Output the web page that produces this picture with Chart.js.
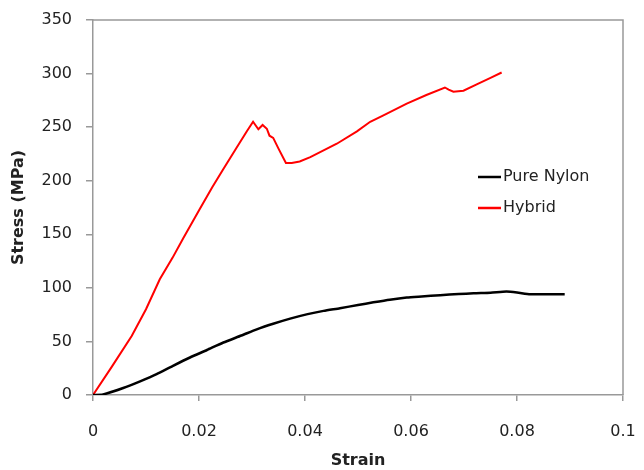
<!DOCTYPE html>
<html>
<head>
<meta charset="utf-8">
<script src="https://cdn.jsdelivr.net/npm/chart.js@4/dist/chart.umd.min.js"></script>
<style>
    body { margin: 0; background: #fff; }
    canvas { display: block; }
</style>
</head>
<body>
<canvas id="myChart" width="644" height="470"></canvas>
<script>
// Data
const nylonStrain = [0, 0.0019, 0.0057, 0.009, 0.012, 0.015, 0.0183, 0.0215, 0.0246, 0.028, 0.0309, 0.034, 0.0372, 0.0405, 0.0435, 0.0466, 0.05, 0.0529, 0.056, 0.0592, 0.062, 0.0655, 0.069, 0.0718, 0.075, 0.078, 0.08, 0.0825, 0.086, 0.089];
const nylonStress = [0, 0.5, 6.5, 13, 19.5, 27, 35, 42, 49, 55.5, 61.3, 66.5, 71.3, 75.5, 78.5, 81, 84, 86.5, 89, 91, 92, 93.2, 94.2, 95, 95.5, 96.6, 95.7, 94, 94, 94];

const hybridStrain = [0, 0.0035, 0.0073, 0.01, 0.0126, 0.015, 0.017, 0.0202, 0.0225, 0.0246, 0.027, 0.029, 0.0302, 0.0312, 0.032, 0.0328, 0.0333, 0.034, 0.035, 0.0364, 0.0375, 0.039, 0.041, 0.046, 0.0498, 0.0523, 0.0548, 0.0592, 0.0629, 0.0664, 0.0671, 0.068, 0.0699, 0.0724, 0.075, 0.0771];
const hybridStress = [0, 26, 55, 80, 108, 128, 146, 174, 194, 211, 230, 246, 255, 248, 252, 248.5, 242, 240, 230, 216.5, 216.5, 218, 222, 234.5, 246, 255, 261, 272, 280, 287, 285, 283, 284, 290, 296, 301];

const xTickLabels = ['0', '0.02', '0.04', '0.06', '0.08', '0.1'];
const seriesNames = ['Pure Nylon', 'Hybrid'];
const seriesColors = ['#000000', '#ff0000'];

const toPoints = (xs, ys) => xs.map((x, i) => ({ x, y: ys[i] }));

// keep the plot box where the reference has it
const fixBox = size => s => {
    if (s.isHorizontal()) s.height = size; else s.width = size;
    s.paddingTop = s.paddingBottom = s.paddingLeft = s.paddingRight = 0;
};

// Top + right border of the plot box
const frame = {
    id: 'frame',
    afterDraw(chart) {
        const { ctx, chartArea: a } = chart;
        ctx.save();
        ctx.strokeStyle = '#999';
        ctx.lineWidth = 1.5;
        ctx.beginPath();
        ctx.moveTo(a.left, a.top);
        ctx.lineTo(a.right, a.top);
        ctx.lineTo(a.right, a.bottom);
        ctx.stroke();
        ctx.restore();
    }
};

// Legend inside the plot, no box
const insideLegend = {
    id: 'insideLegend',
    afterDraw(chart) {
        const ctx = chart.ctx;
        ctx.save();
        ctx.font = '16px "DejaVu Sans"';
        ctx.textBaseline = 'middle';
        ctx.fillStyle = '#222';
        const rows = [177, 208];
        seriesNames.forEach((name, i) => {
            ctx.strokeStyle = seriesColors[i];
            ctx.lineWidth = 2.5;
            ctx.beginPath();
            ctx.moveTo(478, rows[i]);
            ctx.lineTo(501, rows[i]);
            ctx.stroke();
            ctx.fillText(name, 503, rows[i]);
        });
        ctx.restore();
    }
};

const tickFont = { family: 'DejaVu Sans', size: 16 };
const titleFont = { family: 'DejaVu Sans', size: 16, weight: 'bold' };

new Chart(document.getElementById('myChart'), {
    type: 'scatter',
    data: {
        datasets: [
            { label: seriesNames[0], data: toPoints(nylonStrain, nylonStress), showLine: true, borderColor: seriesColors[0], borderWidth: 2.5, pointRadius: 0, tension: 0.2 },
            { label: seriesNames[1], data: toPoints(hybridStrain, hybridStress), showLine: true, borderColor: seriesColors[1], borderWidth: 2, pointRadius: 0, tension: 0 }
        ]
    },
    options: {
        responsive: false,
        animation: false,
        layout: { padding: { top: 20, right: 21, left: 0, bottom: 0 } },
        plugins: { legend: { display: false }, tooltip: { enabled: false } },
        scales: {
            x: {
                type: 'linear', min: 0, max: 0.1,
                afterFit: fixBox(75),
                border: { color: '#999', width: 1.5 },
                grid: { drawOnChartArea: false, tickLength: 6, color: '#999', lineWidth: 1.5 },
                ticks: { stepSize: 0.02, color: '#222', font: tickFont, padding: 21, maxRotation: 0,
                    callback: (v, i) => xTickLabels[i] },
                title: { display: true, text: 'Strain', color: '#222', font: titleFont, padding: { top: 0, bottom: 0 } }
            },
            y: {
                min: 0, max: 350,
                afterFit: fixBox(93),
                border: { color: '#999', width: 1.5 },
                grid: { drawOnChartArea: false, tickLength: 7, color: '#999', lineWidth: 1.5 },
                ticks: { stepSize: 50, color: '#222', font: tickFont, padding: 14 },
                title: { display: true, text: 'Stress (MPa)', color: '#222', font: titleFont, padding: { top: 9, bottom: 0 } }
            }
        }
    },
    plugins: [frame, insideLegend]
});
</script>
</body>
</html>
